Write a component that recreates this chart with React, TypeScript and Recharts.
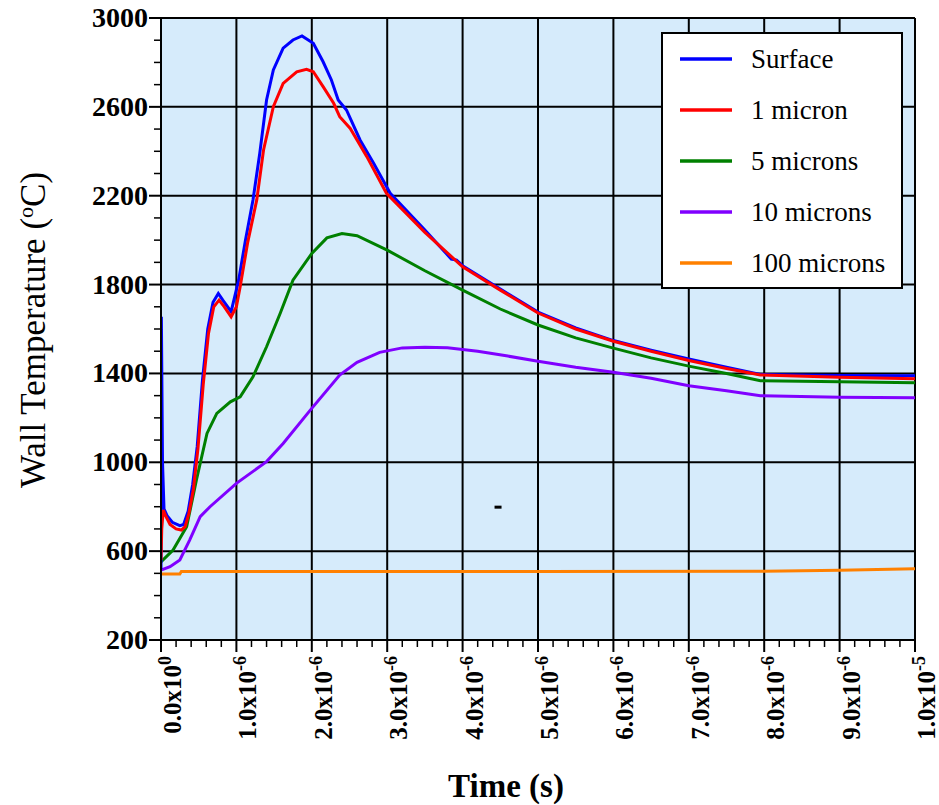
import React from "react";
import { LineChart, Line, XAxis, YAxis, CartesianGrid, Legend, ReferenceDot } from "recharts";

const FONT = "'Liberation Serif', 'Times New Roman', Times, serif";

// time in microseconds, temperature in °C
const surfaceData = [
  { t: 0, v: 520 }, { t: 0.005, v: 1655 }, { t: 0.02, v: 1000 }, { t: 0.04, v: 790 },
  { t: 0.08, v: 760 }, { t: 0.15, v: 730 }, { t: 0.25, v: 715 }, { t: 0.3, v: 720 },
  { t: 0.36, v: 780 }, { t: 0.42, v: 900 }, { t: 0.48, v: 1070 }, { t: 0.55, v: 1370 },
  { t: 0.62, v: 1600 }, { t: 0.69, v: 1720 }, { t: 0.76, v: 1760 }, { t: 0.82, v: 1730 },
  { t: 0.93, v: 1678 }, { t: 1.03, v: 1820 }, { t: 1.12, v: 2000 }, { t: 1.22, v: 2181 },
  { t: 1.31, v: 2391 }, { t: 1.4, v: 2631 }, { t: 1.49, v: 2766 }, { t: 1.62, v: 2864 },
  { t: 1.75, v: 2901 }, { t: 1.87, v: 2919 }, { t: 2.02, v: 2886 }, { t: 2.15, v: 2803 },
  { t: 2.26, v: 2721 }, { t: 2.35, v: 2631 }, { t: 2.46, v: 2586 }, { t: 2.64, v: 2451 },
  { t: 2.82, v: 2346 }, { t: 3.04, v: 2211 }, { t: 3.5, v: 2045 }, { t: 3.85, v: 1915 },
  { t: 3.92, v: 1910 }, { t: 4.0, v: 1885 }, { t: 4.5, v: 1780 }, { t: 5.0, v: 1676 },
  { t: 5.5, v: 1605 }, { t: 6.0, v: 1548 }, { t: 6.5, v: 1505 }, { t: 7.0, v: 1465 },
  { t: 7.5, v: 1428 }, { t: 7.95, v: 1395 }, { t: 9.0, v: 1391 }, { t: 10, v: 1389 },
];

const micron1Data = [
  { t: 0, v: 560 }, { t: 0.01, v: 700 }, { t: 0.03, v: 785 }, { t: 0.06, v: 760 },
  { t: 0.12, v: 720 }, { t: 0.2, v: 700 }, { t: 0.27, v: 695 }, { t: 0.32, v: 710 },
  { t: 0.37, v: 770 }, { t: 0.43, v: 880 }, { t: 0.49, v: 1060 }, { t: 0.56, v: 1350 },
  { t: 0.63, v: 1580 }, { t: 0.7, v: 1700 }, { t: 0.77, v: 1730 }, { t: 0.84, v: 1700 },
  { t: 0.93, v: 1655 }, { t: 1.0, v: 1700 }, { t: 1.05, v: 1790 }, { t: 1.15, v: 1990 },
  { t: 1.27, v: 2181 }, { t: 1.36, v: 2406 }, { t: 1.49, v: 2601 }, { t: 1.62, v: 2706 },
  { t: 1.8, v: 2758 }, { t: 1.93, v: 2769 }, { t: 2.02, v: 2758 }, { t: 2.15, v: 2691 },
  { t: 2.29, v: 2616 }, { t: 2.37, v: 2556 }, { t: 2.51, v: 2503 }, { t: 2.73, v: 2376 },
  { t: 2.99, v: 2211 }, { t: 3.5, v: 2035 }, { t: 4.0, v: 1880 }, { t: 4.5, v: 1775 },
  { t: 5.0, v: 1672 }, { t: 5.5, v: 1600 }, { t: 6.0, v: 1545 }, { t: 6.5, v: 1500 },
  { t: 7.0, v: 1458 }, { t: 7.5, v: 1422 }, { t: 7.95, v: 1393 }, { t: 9.0, v: 1383 },
  { t: 10, v: 1376 },
];

const micron5Data = [
  { t: 0, v: 552 }, { t: 0.16, v: 605 }, { t: 0.34, v: 710 }, { t: 0.47, v: 920 },
  { t: 0.61, v: 1130 }, { t: 0.74, v: 1220 }, { t: 0.92, v: 1272 }, { t: 1.05, v: 1295 },
  { t: 1.22, v: 1385 }, { t: 1.4, v: 1520 }, { t: 1.58, v: 1670 }, { t: 1.75, v: 1820 },
  { t: 2.0, v: 1940 }, { t: 2.2, v: 2010 }, { t: 2.4, v: 2030 }, { t: 2.6, v: 2020 },
  { t: 3.0, v: 1955 }, { t: 3.5, v: 1862 }, { t: 4.0, v: 1775 }, { t: 4.5, v: 1690 },
  { t: 5.0, v: 1618 }, { t: 5.5, v: 1560 }, { t: 6.0, v: 1514 }, { t: 6.5, v: 1470 },
  { t: 7.0, v: 1433 }, { t: 7.5, v: 1400 }, { t: 7.95, v: 1367 }, { t: 9.0, v: 1362 },
  { t: 10, v: 1358 },
];

const micron10Data = [
  { t: 0, v: 515 }, { t: 0.12, v: 530 }, { t: 0.25, v: 560 }, { t: 0.38, v: 650 },
  { t: 0.52, v: 755 }, { t: 0.65, v: 800 }, { t: 1.0, v: 905 }, { t: 1.4, v: 1003 },
  { t: 1.62, v: 1085 }, { t: 1.98, v: 1235 }, { t: 2.37, v: 1393 }, { t: 2.6, v: 1450 },
  { t: 2.9, v: 1495 }, { t: 3.2, v: 1515 }, { t: 3.5, v: 1518 }, { t: 3.8, v: 1516 },
  { t: 4.2, v: 1500 }, { t: 4.6, v: 1478 }, { t: 5.0, v: 1455 }, { t: 5.5, v: 1428 },
  { t: 6.0, v: 1405 }, { t: 6.5, v: 1378 }, { t: 7.0, v: 1345 }, { t: 7.5, v: 1322 },
  { t: 7.95, v: 1300 }, { t: 9.0, v: 1293 }, { t: 10, v: 1290 },
];

const micron100Data = [
  { t: 0, v: 497 }, { t: 0.25, v: 497 }, { t: 0.27, v: 508 }, { t: 2.0, v: 508 },
  { t: 5.0, v: 508 }, { t: 8.0, v: 509 }, { t: 9.0, v: 514 }, { t: 10, v: 521 },
];

const seriesNames = ["Surface", "1 micron", "5 microns", "10 microns", "100 microns"];
const seriesColors = ["#0000ff", "#ff0000", "#008000", "#8000ff", "#ff8000"];
const seriesData = [surfaceData, micron1Data, micron5Data, micron10Data, micron100Data];
// drawing order (back to front)
const drawOrder = [4, 3, 2, 0, 1];

const xMajorValues = [0, 1, 2, 3, 4, 5, 6, 7, 8, 9, 10];
const xTickMantissas = ["0.0", "1.0", "2.0", "3.0", "4.0", "5.0", "6.0", "7.0", "8.0", "9.0", "1.0"];
const xTickExponents = ["0", "-6", "-6", "-6", "-6", "-6", "-6", "-6", "-6", "-6", "-5"];
const xAllTicks = Array.from({ length: 51 }, (_, i) => Math.round(i * 2) / 10);

const yMajorValues = [200, 600, 1000, 1400, 1800, 2200, 2600, 3000];
const yAllTicks = Array.from({ length: 29 }, (_, i) => 200 + i * 100);

const strayMark = { t: 4.47, v: 798 };

const XTick = (props: any) => {
  const { x, y, payload } = props;
  const v = payload.value;
  const idx = xMajorValues.findIndex((m) => Math.abs(m - v) < 1e-6);
  if (idx < 0) {
    return <line x1={x} y1={y} x2={x} y2={y + 7} stroke="#000" strokeWidth={1.5} />;
  }
  return (
    <g>
      <line x1={x} y1={y} x2={x} y2={y + 12} stroke="#000" strokeWidth={2} />
      <text
        transform={`translate(${x + 20},${y + 16}) rotate(-90)`}
        textAnchor="end"
        fontFamily={FONT}
        fontWeight="bold"
        fontSize={25}
        fill="#000"
      >
        {xTickMantissas[idx]}x10
        <tspan dy={-10} fontSize={18}>{xTickExponents[idx]}</tspan>
      </text>
    </g>
  );
};

const YTick = (props: any) => {
  const { x, y, payload } = props;
  const v = payload.value;
  const major = yMajorValues.includes(v);
  if (!major) {
    return <line x1={x - 7} y1={y} x2={x} y2={y} stroke="#000" strokeWidth={1.5} />;
  }
  return (
    <g>
      <line x1={x - 12} y1={y} x2={x} y2={y} stroke="#000" strokeWidth={2} />
      <text
        x={x - 13}
        y={y + 9}
        textAnchor="end"
        fontFamily={FONT}
        fontWeight="bold"
        fontSize={28}
        fill="#000"
      >
        {v}
      </text>
    </g>
  );
};

const YTitle = () => (
  <text
    transform="translate(45,330) rotate(-90)"
    textAnchor="middle"
    fontFamily={FONT}
    fontSize={35}
    fill="#000"
  >
    Wall Temperature (
    <tspan dy={-12} fontSize={22}>o</tspan>
    <tspan dy={12}>C)</tspan>
  </text>
);

const XTitle = () => (
  <text x={506} y={797} textAnchor="middle" fontFamily={FONT} fontWeight="bold" fontSize={33} fill="#000">
    Time (s)
  </text>
);

const LegendBox = () => (
  <svg width={243} height={258} style={{ display: "block" }}>
    <rect x={1} y={1} width={240} height={255} fill="#fff" stroke="#000" strokeWidth={2} />
    {seriesNames.map((name, i) => {
      const cy = 27 + i * 51;
      return (
        <g key={name}>
          <line x1={19} y1={cy} x2={71} y2={cy} stroke={seriesColors[i]} strokeWidth={3.5} />
          <text x={90} y={cy + 9} fontFamily={FONT} fontSize={27} fill="#000">
            {name}
          </text>
        </g>
      );
    })}
  </svg>
);

const StrayDash = (props: any) => {
  const { cx, cy } = props;
  return <rect x={cx - 3.5} y={cy - 1.5} width={7} height={3} fill="#000" />;
};

export default function App() {
  return (
    <div style={{ position: "absolute", left: 0, top: 0, width: 939, height: 805, background: "#fff" }}>
      <LineChart width={939} height={805} margin={{ top: 18, right: 24, bottom: 0, left: 0 }}>
        <CartesianGrid
          fill="#d6ebfb"
          fillOpacity={1}
          stroke="#000"
          strokeWidth={2}
          horizontalValues={yMajorValues}
          verticalValues={xMajorValues}
        />
        <XAxis
          type="number"
          dataKey="t"
          domain={[0, 10]}
          ticks={xAllTicks}
          interval={0}
          allowDataOverflow
          tick={<XTick />}
          tickLine={false}
          tickSize={0}
          tickMargin={0}
          axisLine={{ stroke: "#000", strokeWidth: 2 }}
          height={165}
          label={<XTitle />}
        />
        <YAxis
          type="number"
          domain={[200, 3000]}
          ticks={yAllTicks}
          interval={0}
          allowDataOverflow
          tick={<YTick />}
          tickLine={false}
          tickSize={0}
          tickMargin={0}
          axisLine={{ stroke: "#000", strokeWidth: 2 }}
          width={161}
          label={<YTitle />}
        />
        {drawOrder.map((i) => (
          <Line
            key={seriesNames[i]}
            data={seriesData[i]}
            dataKey="v"
            name={seriesNames[i]}
            type="linear"
            stroke={seriesColors[i]}
            strokeWidth={3}
            dot={false}
            activeDot={false}
            isAnimationActive={false}
          />
        ))}
        <ReferenceDot x={strayMark.t} y={strayMark.v} r={3} shape={<StrayDash />} />
        <Legend
          layout="vertical"
          align="center"
          verticalAlign="middle"
          content={<LegendBox />}
          wrapperStyle={{ position: "absolute", left: 661, top: 32, width: 243, height: 258 }}
        />
      </LineChart>
    </div>
  );
}
